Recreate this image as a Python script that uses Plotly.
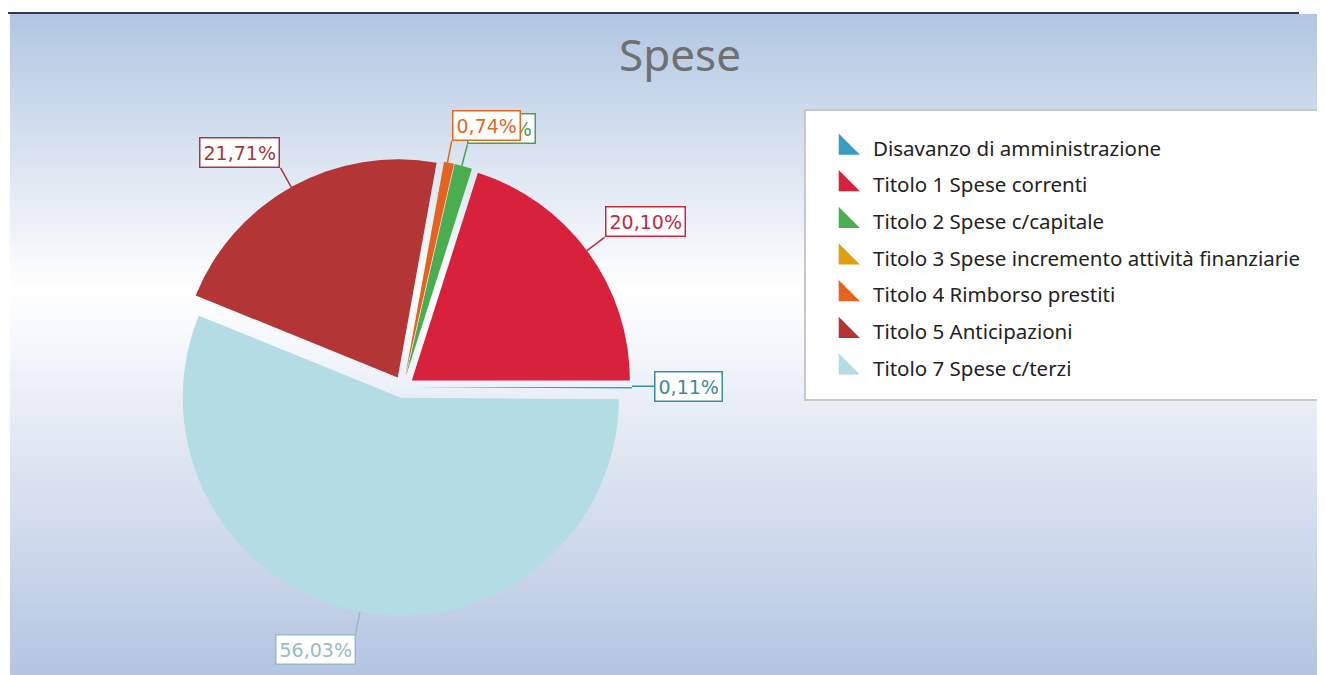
import math
import plotly.graph_objects as go

# ---------------- data ----------------
categories = [
    "Disavanzo di amministrazione",
    "Titolo 1 Spese correnti",
    "Titolo 2 Spese c/capitale",
    "Titolo 3 Spese incremento attività finanziarie",
    "Titolo 4 Rimborso prestiti",
    "Titolo 5 Anticipazioni",
    "Titolo 7 Spese c/terzi",
]
percentages = [0.11, 20.10, 1.31, 0.00, 0.74, 21.71, 56.03]
slice_colors = ["#3A9EC0", "#D8213B", "#4AAE50", "#E0A00C", "#E5621F", "#B43535", "#B3DCE5"]
label_colors = ["#3A8C9E", "#C8283C", "#4AA050", "#D09000", "#E06A22", "#A83838", "#98BAC6"]
title_text = "Spese"

# ---------------- layout constants ----------------
OFF = 8                      # page body margin in the browser
FW, FH = 1317, 667           # figure size so that it fits the 1325x675 window


def px_x(sx):
    """screen pixel x -> paper x"""
    return (sx - OFF) / FW


def px_y(sy):
    """screen pixel y -> paper y"""
    return 1 - (sy - OFF) / FH


PULL = 0.05
PIE_X0, PIE_X1 = 174, 632    # screen pixel box of the pie domain
PIE_Y0, PIE_Y1 = 158, 616

dom_x = [px_x(PIE_X0), px_x(PIE_X1)]
dom_y = [px_y(PIE_Y1), px_y(PIE_Y0)]

fig = go.Figure()

fig.add_trace(go.Pie(
    labels=categories,
    values=percentages,
    marker=dict(colors=slice_colors, line=dict(width=0)),
    sort=False,
    direction="counterclockwise",
    rotation=90,
    pull=[PULL] * len(percentages),
    textinfo="none",
    hoverinfo="label+percent",
    showlegend=False,
    domain=dict(x=dom_x, y=dom_y),
))

# legend entries (one group per category so the spacing can be set)
for name, col in zip(categories, slice_colors):
    fig.add_trace(go.Scatter(
        x=[None], y=[None], mode="markers", name=name, legendgroup=name,
        marker=dict(symbol="triangle-sw", size=16, color=col,
                    line=dict(color=col, width=4)),
        hoverinfo="skip",
    ))

# ---------------- label annotations computed from the data ----------------
cx = (PIE_X0 + PIE_X1) / 2
cy = (PIE_Y0 + PIE_Y1) / 2
r = min(PIE_X1 - PIE_X0, PIE_Y1 - PIE_Y0) / 2 / (1 + PULL)
R_edge = r * (1 + PULL)
LEAD = 22
total = sum(percentages)
annotations = []
cum = 0.0
for val, lc in zip(percentages, label_colors):
    start = cum
    cum += val
    if val <= 0:
        continue
    mid = (start + val / 2) / total * 2 * math.pi
    c, s = math.cos(mid), math.sin(mid)
    ex = cx + R_edge * c
    ey = cy - R_edge * s
    xa = "left" if c > 0.1 else ("right" if c < -0.1 else "center")
    ya = "bottom" if s > 0.1 else ("top" if s < -0.1 else "middle")
    annotations.append(dict(
        x=px_x(ex), y=px_y(ey), xref="paper", yref="paper",
        ax=LEAD * c, ay=-LEAD * s,
        text=f"{val:.2f}".replace(".", ",") + "%",
        showarrow=True, arrowhead=0, arrowwidth=1.5, arrowcolor=lc, standoff=0,
        xanchor=xa, yanchor=ya,
        font=dict(family="DejaVu Sans", size=19, color=lc),
        bgcolor="white", bordercolor=lc, borderwidth=1.5, borderpad=3,
    ))

# ---------------- background ----------------
def lerp(a, b, t):
    return tuple(int(round(a[i] + (b[i] - a[i]) * t)) for i in range(3))

stops = [(14, (178, 198, 226)), (290, (255, 255, 255)), (675, (180, 197, 225))]
shapes = []
BAND = 3
y = 14
while y < 675:
    ym = y + BAND / 2
    col = stops[-1][1]
    for (ya_, ca), (yb_, cb) in zip(stops[:-1], stops[1:]):
        if ya_ <= ym <= yb_:
            col = lerp(ca, cb, (ym - ya_) / (yb_ - ya_))
            break
    shapes.append(dict(
        type="rect", xref="paper", yref="paper", layer="below",
        x0=px_x(10), x1=1.0, y0=px_y(min(y + BAND, 675)), y1=px_y(y),
        fillcolor="rgb(%d,%d,%d)" % col, line=dict(width=0),
    ))
    y += BAND

# legend box
shapes.append(dict(
    type="rect", xref="paper", yref="paper", layer="below",
    x0=px_x(805), x1=1.02, y0=px_y(400), y1=px_y(110),
    fillcolor="white", line=dict(color="#C8C8C8", width=2),
))
# top border line
shapes.append(dict(
    type="line", xref="paper", yref="paper", layer="above",
    x0=0, x1=px_x(1299), y0=px_y(13), y1=px_y(13),
    line=dict(color="#34344A", width=2),
))

fig.update_layout(
    width=FW, height=FH,
    margin=dict(l=0, r=0, t=0, b=0),
    paper_bgcolor="white",
    plot_bgcolor="rgba(0,0,0,0)",
    title=dict(text=title_text, x=px_x(680), xanchor="center",
               y=px_y(56), yanchor="middle", yref="container",
               font=dict(family="Noto Sans", size=44, color="#707070")),
    xaxis=dict(visible=False),
    yaxis=dict(visible=False),
    legend=dict(x=px_x(818), y=px_y(128), xanchor="left", yanchor="top",
                bgcolor="rgba(0,0,0,0)", borderwidth=0,
                tracegroupgap=7, itemwidth=45,
                font=dict(family="Noto Sans", size=20.5, color="#222222")),
    shapes=shapes,
    annotations=annotations,
)

fig.write_html("out.html")
